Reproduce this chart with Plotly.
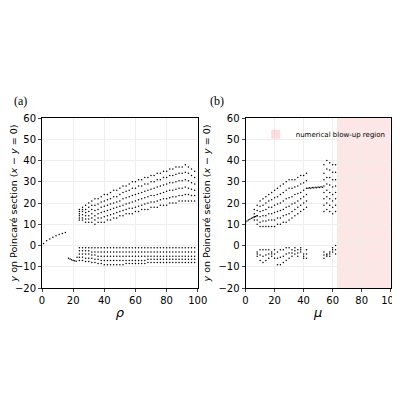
import plotly.graph_objects as go
from plotly.subplots import make_subplots

# ---- panel (a): y on Poincare section vs rho ----
rho_line = [1, 3, 5, 7, 9, 11, 13, 15]
y_line_a = [1.0, 2.2, 3.1, 3.9, 4.6, 5.2, 5.7, 6.1]
rho_short = [17, 18, 19, 20, 21, 22, 22.5]
y_short_a = [-6.0, -6.4, -6.7, -7.0, -7.2, -7.4, -5.5]

rho_cols = [24, 26, 28, 30, 32, 34, 36, 38, 40, 42, 44, 46, 48, 50, 52, 54, 56, 58, 60,
            62, 64, 66, 68, 70, 72, 74, 76, 78, 80, 82, 84, 86, 88, 90, 92, 94, 96, 98]
upper_a = [
    [12, 13, 14, 15, 16, 17], [12, 13, 14.5, 16, 17, 18], [11, 12.5, 14, 15.5, 17, 19],
    [11, 12.5, 14, 16, 18, 20], [11, 13, 15, 17, 19, 21], [10, 12, 14, 16.5, 19, 22],
    [11, 13, 15, 17, 19.5, 22], [11, 13, 15.5, 18, 20.5, 23], [11, 13.5, 16, 18.5, 21, 24],
    [12, 14, 16.5, 19, 21.5, 24], [12, 14.5, 17, 19.5, 22, 25], [13, 15, 17.5, 20, 23, 26],
    [13, 15.5, 18, 20.5, 23, 26], [14, 16, 18.5, 21, 24, 27], [14, 16.5, 19, 22, 25, 28],
    [15, 17, 19.5, 22.5, 25.5, 28], [15, 17.5, 20, 23, 26, 29], [15, 17.5, 20.5, 23.5, 27, 30],
    [16, 18, 21, 24, 27, 30], [16, 18.5, 21.5, 24.5, 28, 31], [17, 19, 22, 25, 28, 31],
    [17, 19.5, 22.5, 25.5, 29, 32], [17, 20, 23, 26, 29, 32], [18, 20.5, 23.5, 26.5, 30, 33],
    [18, 20.5, 23.5, 27, 30, 33], [18, 21, 24, 27.5, 31, 34], [19, 21.5, 24.5, 28, 31, 34],
    [19, 22, 25, 28.5, 32, 35], [19, 22, 25.5, 29, 32, 35], [20, 22.5, 26, 29.5, 33, 36],
    [20, 23, 26, 29.5, 33, 36], [20, 23, 26.5, 30, 33.5, 37], [21, 23.5, 27, 30.5, 34, 37],
    [21, 23.5, 27, 30.5, 34, 37], [21, 24, 27.5, 31, 34.5, 38], [21, 24, 27, 30.5, 34, 37],
    [21, 23.5, 26.5, 29.5, 33, 36], [21, 23.5, 26, 29, 32, 35],
]
lower_a = [
    [-1, -2.5, -4, -5.5, -7], [-1, -2.5, -4, -5.5, -7], [-1, -2.5, -4, -6, -7.5],
    [-1, -2.5, -4, -6, -7.5], [-1, -3, -4.5, -6, -8], [-1, -3, -4.5, -6.5, -8],
    [-1, -3, -5, -6.5, -8.5], [-1, -3, -5, -7, -8.5], [-1, -3, -5, -7, -9],
    [-1, -3, -5, -7, -9], [-1, -3, -5, -7, -9], [-1, -3, -5, -7, -9],
    [-1, -3, -5, -7, -9], [-1, -3, -5, -7, -9], [-1, -3, -5, -7, -9],
    [-1, -3, -5, -7, -8.5], [-1, -3, -5, -7, -8.5], [-1, -3, -5, -7, -8.5],
    [-1, -3, -5, -7, -8.5], [-1, -3, -5, -7, -8.5], [-1, -3, -5, -7, -8.5],
    [-1, -3, -5, -7, -8.5], [-1, -3, -5, -6.5, -8], [-1, -3, -5, -6.5, -8],
    [-1, -3, -5, -6.5, -8], [-1, -3, -5, -6.5, -8], [-1, -3, -5, -6.5, -8],
    [-1, -3, -5, -6.5, -8], [-1, -3, -5, -6.5, -8], [-1, -3, -5, -6.5, -8],
    [-1, -3, -5, -6.5, -8], [-1, -3, -5, -6.5, -8], [-1, -3, -5, -6.5, -8],
    [-1, -3, -5, -6.5, -8], [-1, -3, -5, -6.5, -8], [-1, -3, -5, -6.5, -8],
    [-1, -3, -5, -6.5, -8], [-1, -3, -5, -6.5, -8],
]

# ---- panel (b): y on Poincare section vs mu ----
mu_line = [0, 1, 2, 3, 4, 5, 6, 7, 8]
y_line_b = [11, 11.5, 12, 12.4, 12.8, 13.1, 13.4, 13.7, 14]
mu_cols_b = [6, 8, 10, 12, 14, 16, 18, 20, 22, 24, 26, 28, 30, 32, 34, 36, 38, 40, 42]
upper_b = [
    [12, 13.5, 15, 17], [10, 12, 14, 16.5, 19], [9, 11, 13.5, 16, 18.5, 21],
    [9, 11.5, 14, 16.5, 19, 22], [9, 11.5, 14, 17, 20, 23], [9, 12, 15, 18, 21, 24],
    [9, 12, 15, 18, 21.5, 25], [9, 12, 15.5, 19, 22.5, 26], [10, 13, 16, 19.5, 23, 27],
    [10, 13, 16.5, 20, 24, 28], [11, 14, 17, 21, 25, 29], [11, 14.5, 18, 22, 26, 30],
    [12, 15, 18.5, 22.5, 27, 31], [13, 16, 19.5, 23, 27, 31], [14, 17, 20, 24, 27.5, 31],
    [15, 18, 21, 24.5, 28, 32], [16, 19, 22, 25, 29, 33], [17, 20, 23, 26, 29.5, 33],
    [18, 21, 24, 27, 30.5, 34],
]
mu_thin = [43, 44, 45, 46, 47, 48, 49, 50, 51, 52, 53]
y_thin = [27, 27.2, 27, 27.3, 27.1, 27.4, 27.2, 27.5, 27.3, 27.6, 27.4]
mu_cols_c = [54, 56, 58, 60, 62]
upper_c = [
    [16, 19, 22, 25, 28, 31, 34, 38], [17, 20, 23, 26, 29, 32, 36, 40],
    [16, 19, 22, 25, 28.5, 32, 35.5, 39], [15, 18, 21, 24, 27.5, 31, 34.5, 38],
    [16, 19, 22, 25, 28, 31, 34.5, 38],
]
mu_cols_low = [8, 10, 12, 14, 16, 18, 20, 22, 24, 26, 28, 30, 32, 34, 36, 38, 40, 42,
               54, 56, 58, 60, 62]
lower_b = [
    [-3, -4, -5], [-2, -4.5, -7], [-2, -5, -8], [-2, -4.5, -7], [-2, -4, -6], [-3, -4, -5],
    [-2, -4, -6], [-3, -6, -9], [-2, -5.5, -9], [-2, -5, -8], [-1, -4, -7], [-1, -3.5, -6],
    [-2, -3.5, -5], [-1, -2.5, -4], [-2, -3.5, -5], [-1, -2, -3], [-4, -5, -6], [-2, -4, -6],
    [-3, -4.5, -6], [-4, -4.5, -5], [-3, -4, -5], [-1, -2, -3], [0, -2, -4],
]
blowup_start = 63


def flatten(xs, cols):
    px, py = [], []
    for x, ys in zip(xs, cols):
        px += [x] * len(ys)
        py += ys
    return px, py


fig = make_subplots(rows=1, cols=2)
dot = dict(color="black", size=1.5)

xa, ya = flatten(rho_cols, upper_a)
xl, yl = flatten(rho_cols, lower_a)
for x, y in [(rho_line, y_line_a), (rho_short, y_short_a), (xa, ya), (xl, yl)]:
    fig.add_trace(go.Scatter(x=x, y=y, mode="markers", marker=dot, showlegend=False), 1, 1)

xb, yb = flatten(mu_cols_b, upper_b)
xc, yc = flatten(mu_cols_c, upper_c)
xlb, ylb = flatten(mu_cols_low, lower_b)
for x, y in [(mu_line, y_line_b), (xb, yb), (mu_thin, y_thin), (xc, yc), (xlb, ylb)]:
    fig.add_trace(go.Scatter(x=x, y=y, mode="markers", marker=dot, showlegend=False), 1, 2)

fig.add_shape(type="rect", xref="x2", yref="y2", x0=blowup_start, x1=100, y0=-20, y1=60,
              fillcolor="rgba(250,200,200,0.45)", line_width=0, layer="below")
fig.add_trace(go.Scatter(x=[None], y=[None], mode="markers", name="numerical blow-up region",
                         marker=dict(symbol="square", size=9, color="rgba(250,200,200,0.6)")), 1, 2)

ax = dict(range=[0, 100], dtick=20, showgrid=True, gridcolor="#eeeeee", showline=True,
          linecolor="black", mirror=True, ticks="outside", ticklen=3, zeroline=False,
          tickfont=dict(size=10), automargin=False)
ay = dict(range=[-20, 60], dtick=10, showgrid=True, gridcolor="#eeeeee", showline=True,
          linecolor="black", mirror=True, ticks="outside", ticklen=3, zeroline=False,
          tickfont=dict(size=10), automargin=False,
          title=dict(text="<i>y</i> on Poincaré section (<i>x</i> − <i>y</i> = 0)", standoff=6,
                     font=dict(size=9.5)))
fig.update_xaxes(**ax)
fig.update_yaxes(**ay)
fig.update_xaxes(title=dict(text="<i>ρ</i>", standoff=2), domain=[0, 0.44], row=1, col=1)
fig.update_xaxes(title=dict(text="<i>μ</i>", standoff=2), domain=[0.575, 0.985], row=1, col=2)

fig.add_annotation(text="(a)", xref="paper", yref="paper", x=-0.085, y=1.045, showarrow=False,
                   font=dict(family="Liberation Serif", size=12), xanchor="left", yanchor="bottom")
fig.add_annotation(text="(b)", xref="paper", yref="paper", x=0.47, y=1.045, showarrow=False,
                   font=dict(family="Liberation Serif", size=12), xanchor="left", yanchor="bottom")

fig.update_layout(
    width=400, height=400, plot_bgcolor="white", paper_bgcolor="white",
    margin=dict(l=34, r=12, t=110, b=120),
    font=dict(family="DejaVu Sans", size=11, color="black"),
    legend=dict(x=0.985, y=0.99, xanchor="right", yanchor="top", bgcolor="rgba(0,0,0,0)",
                font=dict(size=7)),
)

fig.write_html("out.html")
